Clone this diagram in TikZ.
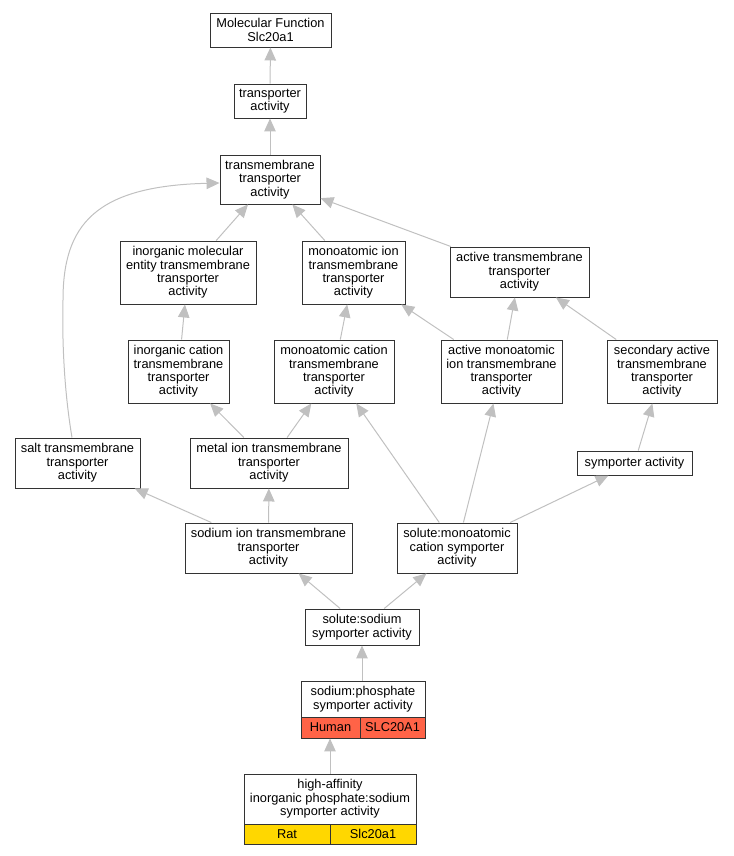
\documentclass[tikz,border=0pt]{standalone}
\usepackage{fontspec}
\setmainfont{Liberation Sans}
\usetikzlibrary{arrows.meta}
\definecolor{humanc}{HTML}{FF6347}
\definecolor{ratc}{HTML}{FFD700}
\definecolor{edgec}{HTML}{C0C0C0}
\begin{document}
\begin{tikzpicture}[x=1pt,y=-1pt,
  box/.style={draw=black!80, line width=0.95pt, fill=white, inner sep=0pt, align=center,
    font=\fontsize{12.8}{13.4}\selectfont},
  plain/.style={inner sep=0pt, align=center, font=\fontsize{12.8}{13.4}\selectfont},
  cell/.style={draw=black!80, line width=0.95pt, inner sep=0pt, align=center,
    font=\fontsize{12.8}{13.4}\selectfont},
  edge/.style={draw=edgec, line width=1pt, -{Triangle[length=13pt,width=11.5pt]}},
  ]
\useasboundingbox (0,0) rectangle (733,856);

\node[box, minimum width=121pt, minimum height=34pt] (n1) at (270.5,30) {Molecular Function\\Slc20a1};
\node[box, minimum width=72pt, minimum height=34pt] (n2) at (270,101) {transporter\\activity};
\node[box, minimum width=100pt, minimum height=49pt] (n3) at (270,179.5) {transmembrane\\transporter\\activity};
\node[box, minimum width=136pt, minimum height=63pt] (n4) at (188,272.5) {inorganic molecular\\entity transmembrane\\transporter\\activity};
\node[box, minimum width=103pt, minimum height=63pt] (n5) at (353.5,272.5) {monoatomic ion\\transmembrane\\transporter\\activity};
\node[box, minimum width=139pt, minimum height=50pt] (n6) at (519.5,272) {active transmembrane\\transporter\\activity};
\node[box, minimum width=101pt, minimum height=63pt] (n7) at (178.5,371.5) {inorganic cation\\transmembrane\\transporter\\activity};
\node[box, minimum width=120pt, minimum height=63pt] (n8) at (334,371.5) {monoatomic cation\\transmembrane\\transporter\\activity};
\node[box, minimum width=121pt, minimum height=63pt] (n9) at (501.5,371.5) {active monoatomic\\ion transmembrane\\transporter\\activity};
\node[box, minimum width=110pt, minimum height=63pt] (n10) at (662,371.5) {secondary active\\transmembrane\\transporter\\activity};
\node[box, minimum width=125pt, minimum height=50pt] (n11) at (77.5,463) {salt transmembrane\\transporter\\activity};
\node[box, minimum width=158pt, minimum height=50pt] (n12) at (269,463) {metal ion transmembrane\\transporter\\activity};
\node[box, minimum width=115pt, minimum height=24pt] (n13) at (634.5,463) {symporter activity};
\node[box, minimum width=167pt, minimum height=50pt] (n14) at (268.5,548) {sodium ion transmembrane\\transporter\\activity};
\node[box, minimum width=120pt, minimum height=50pt] (n15) at (457,548) {solute:monoatomic\\cation symporter\\activity};
\node[box, minimum width=114pt, minimum height=36pt] (n16) at (362,627) {solute:sodium\\symporter activity};

% composite node 17
\node[box, minimum width=124pt, minimum height=57pt] (n17) at (363,709.5) {};
\node[plain] (n17t) at (363,699) {sodium:phosphate\\symporter activity};
\node[cell, fill=humanc, minimum width=59pt, minimum height=21pt] (n17a) at (330.5,727.5) {Human};
\node[cell, fill=humanc, minimum width=65pt, minimum height=21pt] (n17b) at (392.5,727.5) {SLC20A1};

% composite node 18
\node[box, minimum width=172pt, minimum height=70pt] (n18) at (330,809) {};
\node[plain] (n18t) at (330,799) {high-affinity\\inorganic phosphate:sodium\\symporter activity};
\node[cell, fill=ratc, minimum width=86pt, minimum height=20pt] (n18a) at (287,834) {Rat};
\node[cell, fill=ratc, minimum width=86pt, minimum height=20pt] (n18b) at (373,834) {Slc20a1};

% edges
\draw[edge] (n2) -- (n1);
\draw[edge] (n3) -- (n2);
\draw[edge] (n4) -- (n3);
\draw[edge] (n5) -- (n3);
\draw[edge] (n6) -- (n3);
\draw[edge] ([xshift=-5.5pt]n11.north) .. controls (64,390) and (62,340) .. (63,300)
   .. controls (63,225) and (95,186) .. ([yshift=-3.5pt]n3.west);
\draw[edge] (n7) -- (n4);
\draw[edge] (n8) -- (n5);
\draw[edge] (n9) -- (n5);
\draw[edge] (n9) -- (n6);
\draw[edge] (n10) -- (n6);
\draw[edge] (n12) -- (n7);
\draw[edge] (n12) -- (n8);
\draw[edge] (n15) -- (n8);
\draw[edge] (n15) -- (n9);
\draw[edge] (n13) -- (n10);
\draw[edge] (n14) -- (n11);
\draw[edge] (n14) -- (n12);
\draw[edge] (n15) -- (n13);
\draw[edge] (n16) -- (n14);
\draw[edge] (n16) -- (n15);
\draw[edge] (n16.south |- n17.north) -- (n16.south);
\draw[edge] (n18.north) -- (n18.north |- n17.south);
\end{tikzpicture}
\end{document}
